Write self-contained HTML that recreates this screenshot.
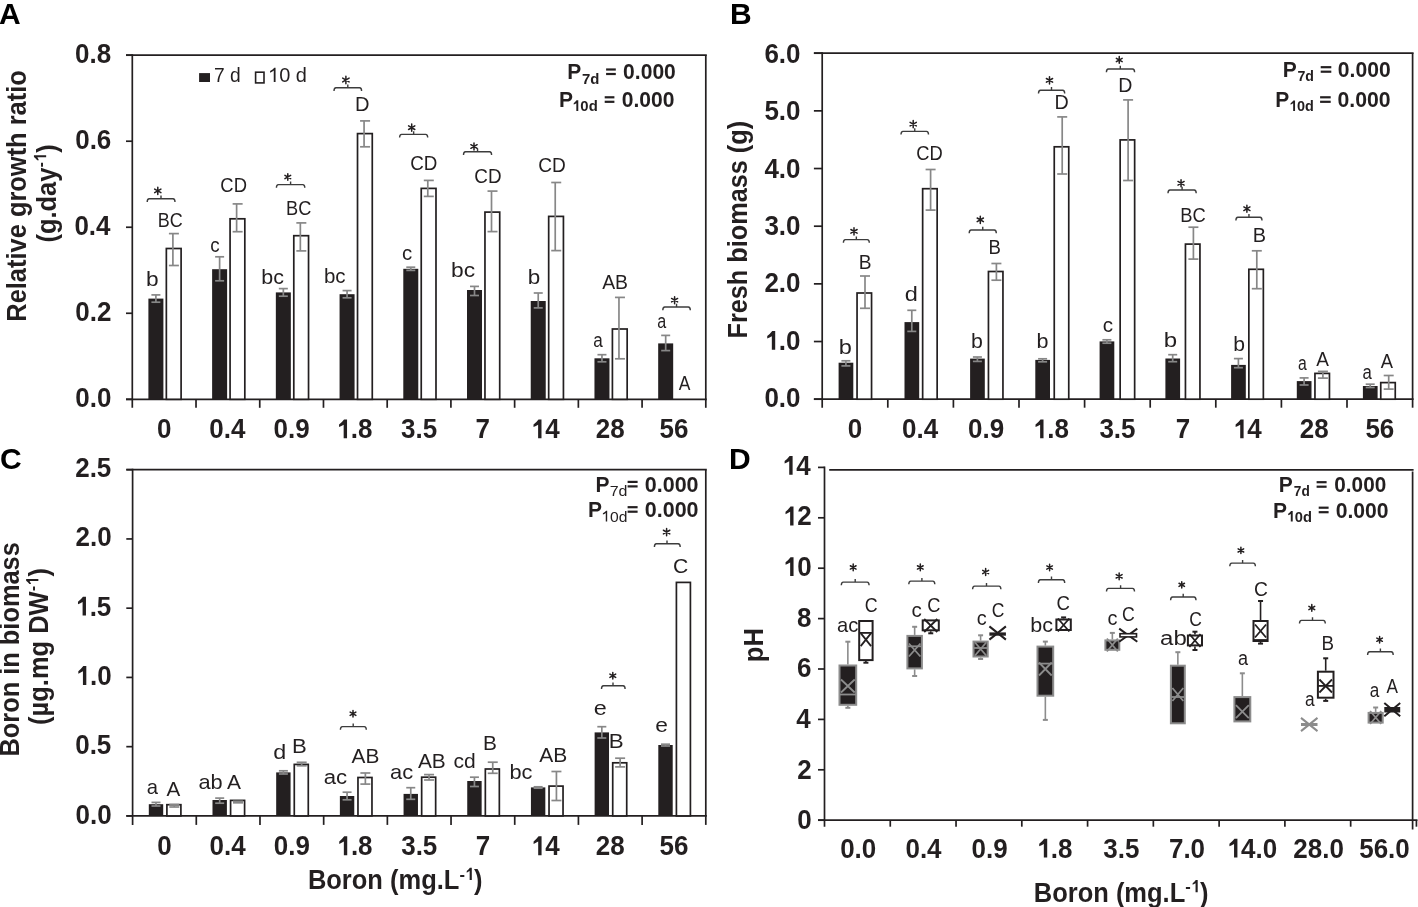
<!DOCTYPE html>
<html><head><meta charset="utf-8"><title>Boron figure</title>
<style>
html,body{margin:0;padding:0;background:#fff;width:1418px;height:907px;overflow:hidden}
svg{display:block;will-change:transform;font-family:"Liberation Sans", sans-serif}
</style></head><body>
<svg width="1418" height="907" viewBox="0 0 1418 907">
<rect width="1418" height="907" fill="#fff"/>
<line x1="126" y1="55.2" x2="706.8" y2="55.2" stroke="#231f20" stroke-width="1.7"/>
<line x1="705.8" y1="55.2" x2="705.8" y2="399.3" stroke="#231f20" stroke-width="1.7"/>
<line x1="132.3" y1="54.2" x2="132.3" y2="407.8" stroke="#231f20" stroke-width="1.7"/>
<line x1="126" y1="399.3" x2="706.8" y2="399.3" stroke="#231f20" stroke-width="1.7"/>
<line x1="126" y1="399.3" x2="132.3" y2="399.3" stroke="#231f20" stroke-width="1.7"/>
<text transform="translate(75.32 407.2) scale(1.0000 1.0300)" font-size="26" font-weight="bold" fill="#231f20">0.0</text>
<line x1="126" y1="313.27" x2="132.3" y2="313.27" stroke="#231f20" stroke-width="1.7"/>
<text transform="translate(75.3 321.05) scale(1.0000 1.0300)" font-size="26" font-weight="bold" fill="#231f20">0.2</text>
<line x1="126" y1="227.25" x2="132.3" y2="227.25" stroke="#231f20" stroke-width="1.7"/>
<text transform="translate(74.4 234.9) scale(1.0000 1.0300)" font-size="26" font-weight="bold" fill="#231f20">0.4</text>
<line x1="126" y1="141.22" x2="132.3" y2="141.22" stroke="#231f20" stroke-width="1.7"/>
<text transform="translate(75.2 148.75) scale(1.0000 1.0300)" font-size="26" font-weight="bold" fill="#231f20">0.6</text>
<line x1="126" y1="55.2" x2="132.3" y2="55.2" stroke="#231f20" stroke-width="1.7"/>
<text transform="translate(75.06 62.6) scale(1.0000 1.0300)" font-size="26" font-weight="bold" fill="#231f20">0.8</text>
<line x1="196.02" y1="399.3" x2="196.02" y2="407.8" stroke="#231f20" stroke-width="1.7"/>
<line x1="259.74" y1="399.3" x2="259.74" y2="407.8" stroke="#231f20" stroke-width="1.7"/>
<line x1="323.47" y1="399.3" x2="323.47" y2="407.8" stroke="#231f20" stroke-width="1.7"/>
<line x1="387.19" y1="399.3" x2="387.19" y2="407.8" stroke="#231f20" stroke-width="1.7"/>
<line x1="450.91" y1="399.3" x2="450.91" y2="407.8" stroke="#231f20" stroke-width="1.7"/>
<line x1="514.63" y1="399.3" x2="514.63" y2="407.8" stroke="#231f20" stroke-width="1.7"/>
<line x1="578.36" y1="399.3" x2="578.36" y2="407.8" stroke="#231f20" stroke-width="1.7"/>
<line x1="642.08" y1="399.3" x2="642.08" y2="407.8" stroke="#231f20" stroke-width="1.7"/>
<line x1="705.8" y1="399.3" x2="705.8" y2="407.8" stroke="#231f20" stroke-width="1.7"/>
<text transform="translate(156.95 438.3) scale(1.0000 1.0300)" font-size="26" font-weight="bold" fill="#231f20">0</text>
<text transform="translate(209.37 438.3) scale(1.0000 1.0300)" font-size="26" font-weight="bold" fill="#231f20">0.4</text>
<text transform="translate(273.5 438.3) scale(1.0000 1.0300)" font-size="26" font-weight="bold" fill="#231f20">0.9</text>
<text transform="translate(336.25 438.3) scale(1.0000 1.0300)" font-size="26" font-weight="bold" fill="#231f20"> .8</text>
<path transform="translate(336.25 438.3) scale(26.0000 26.7800)" d="M0.285 0L0.415 0L0.415 -0.705L0.30 -0.705Q0.22 -0.6 0.108 -0.515L0.108 -0.42Q0.2 -0.455 0.285 -0.51Z" fill="#231f20"/>
<text transform="translate(401.04 438.3) scale(1.0000 1.0300)" font-size="26" font-weight="bold" fill="#231f20">3.5</text>
<text transform="translate(475.55 438.3) scale(1.0000 1.0300)" font-size="26" font-weight="bold" fill="#231f20">7</text>
<text transform="translate(530.7 438.3) scale(1.0000 1.0300)" font-size="26" font-weight="bold" fill="#231f20"> 4</text>
<path transform="translate(530.7 438.3) scale(26.0000 26.7800)" d="M0.285 0L0.415 0L0.415 -0.705L0.30 -0.705Q0.22 -0.6 0.108 -0.515L0.108 -0.42Q0.2 -0.455 0.285 -0.51Z" fill="#231f20"/>
<text transform="translate(595.71 438.3) scale(1.0000 1.0300)" font-size="26" font-weight="bold" fill="#231f20">28</text>
<text transform="translate(659.55 438.3) scale(1.0000 1.0300)" font-size="26" font-weight="bold" fill="#231f20">56</text>
<rect x="148.4" y="298.6" width="15" height="100.7" fill="#231f20"/>
<rect x="166.35" y="248.5" width="14.75" height="150.8" fill="#fff" stroke="#231f20" stroke-width="1.7"/>
<line x1="155.9" y1="294.9" x2="155.9" y2="302.2" stroke="#878787" stroke-width="1.7"/>
<line x1="151.4" y1="294.9" x2="160.4" y2="294.9" stroke="#878787" stroke-width="1.7"/>
<line x1="151.4" y1="302.2" x2="160.4" y2="302.2" stroke="#878787" stroke-width="1.7"/>
<line x1="172.9" y1="233.6" x2="172.9" y2="265.5" stroke="#878787" stroke-width="1.7"/>
<line x1="168.9" y1="233.6" x2="178.9" y2="233.6" stroke="#878787" stroke-width="1.7"/>
<line x1="168.9" y1="265.5" x2="178.9" y2="265.5" stroke="#878787" stroke-width="1.7"/>
<rect x="212.12" y="269.2" width="15" height="130.1" fill="#231f20"/>
<rect x="230.07" y="218.8" width="14.75" height="180.5" fill="#fff" stroke="#231f20" stroke-width="1.7"/>
<line x1="219.62" y1="256.8" x2="219.62" y2="280.8" stroke="#878787" stroke-width="1.7"/>
<line x1="215.12" y1="256.8" x2="224.12" y2="256.8" stroke="#878787" stroke-width="1.7"/>
<line x1="215.12" y1="280.8" x2="224.12" y2="280.8" stroke="#878787" stroke-width="1.7"/>
<line x1="236.62" y1="203.9" x2="236.62" y2="231.7" stroke="#878787" stroke-width="1.7"/>
<line x1="232.62" y1="203.9" x2="242.62" y2="203.9" stroke="#878787" stroke-width="1.7"/>
<line x1="232.62" y1="231.7" x2="242.62" y2="231.7" stroke="#878787" stroke-width="1.7"/>
<rect x="275.84" y="292.4" width="15" height="106.9" fill="#231f20"/>
<rect x="293.79" y="235.7" width="14.75" height="163.6" fill="#fff" stroke="#231f20" stroke-width="1.7"/>
<line x1="283.34" y1="288.6" x2="283.34" y2="296.2" stroke="#878787" stroke-width="1.7"/>
<line x1="278.84" y1="288.6" x2="287.84" y2="288.6" stroke="#878787" stroke-width="1.7"/>
<line x1="278.84" y1="296.2" x2="287.84" y2="296.2" stroke="#878787" stroke-width="1.7"/>
<line x1="300.34" y1="222.9" x2="300.34" y2="250.9" stroke="#878787" stroke-width="1.7"/>
<line x1="296.34" y1="222.9" x2="306.34" y2="222.9" stroke="#878787" stroke-width="1.7"/>
<line x1="296.34" y1="250.9" x2="306.34" y2="250.9" stroke="#878787" stroke-width="1.7"/>
<rect x="339.57" y="294.2" width="15" height="105.1" fill="#231f20"/>
<rect x="357.52" y="133.6" width="14.75" height="265.7" fill="#fff" stroke="#231f20" stroke-width="1.7"/>
<line x1="347.07" y1="290.6" x2="347.07" y2="297.8" stroke="#878787" stroke-width="1.7"/>
<line x1="342.57" y1="290.6" x2="351.57" y2="290.6" stroke="#878787" stroke-width="1.7"/>
<line x1="342.57" y1="297.8" x2="351.57" y2="297.8" stroke="#878787" stroke-width="1.7"/>
<line x1="364.07" y1="120.9" x2="364.07" y2="146.8" stroke="#878787" stroke-width="1.7"/>
<line x1="360.07" y1="120.9" x2="370.07" y2="120.9" stroke="#878787" stroke-width="1.7"/>
<line x1="360.07" y1="146.8" x2="370.07" y2="146.8" stroke="#878787" stroke-width="1.7"/>
<rect x="403.29" y="268.8" width="15" height="130.5" fill="#231f20"/>
<rect x="421.24" y="188.4" width="14.75" height="210.9" fill="#fff" stroke="#231f20" stroke-width="1.7"/>
<line x1="410.79" y1="267.2" x2="410.79" y2="270.4" stroke="#878787" stroke-width="1.7"/>
<line x1="406.29" y1="267.2" x2="415.29" y2="267.2" stroke="#878787" stroke-width="1.7"/>
<line x1="406.29" y1="270.4" x2="415.29" y2="270.4" stroke="#878787" stroke-width="1.7"/>
<line x1="427.79" y1="180.4" x2="427.79" y2="196.4" stroke="#878787" stroke-width="1.7"/>
<line x1="423.79" y1="180.4" x2="433.79" y2="180.4" stroke="#878787" stroke-width="1.7"/>
<line x1="423.79" y1="196.4" x2="433.79" y2="196.4" stroke="#878787" stroke-width="1.7"/>
<rect x="467.01" y="290" width="15" height="109.3" fill="#231f20"/>
<rect x="484.96" y="212.1" width="14.75" height="187.2" fill="#fff" stroke="#231f20" stroke-width="1.7"/>
<line x1="474.51" y1="286.4" x2="474.51" y2="295.5" stroke="#878787" stroke-width="1.7"/>
<line x1="470.01" y1="286.4" x2="479.01" y2="286.4" stroke="#878787" stroke-width="1.7"/>
<line x1="470.01" y1="295.5" x2="479.01" y2="295.5" stroke="#878787" stroke-width="1.7"/>
<line x1="491.51" y1="191.1" x2="491.51" y2="231.6" stroke="#878787" stroke-width="1.7"/>
<line x1="487.51" y1="191.1" x2="497.51" y2="191.1" stroke="#878787" stroke-width="1.7"/>
<line x1="487.51" y1="231.6" x2="497.51" y2="231.6" stroke="#878787" stroke-width="1.7"/>
<rect x="530.73" y="301" width="15" height="98.3" fill="#231f20"/>
<rect x="548.68" y="216.4" width="14.75" height="182.9" fill="#fff" stroke="#231f20" stroke-width="1.7"/>
<line x1="538.23" y1="293" x2="538.23" y2="307.9" stroke="#878787" stroke-width="1.7"/>
<line x1="533.73" y1="293" x2="542.73" y2="293" stroke="#878787" stroke-width="1.7"/>
<line x1="533.73" y1="307.9" x2="542.73" y2="307.9" stroke="#878787" stroke-width="1.7"/>
<line x1="555.23" y1="182.5" x2="555.23" y2="250.6" stroke="#878787" stroke-width="1.7"/>
<line x1="551.23" y1="182.5" x2="561.23" y2="182.5" stroke="#878787" stroke-width="1.7"/>
<line x1="551.23" y1="250.6" x2="561.23" y2="250.6" stroke="#878787" stroke-width="1.7"/>
<rect x="594.46" y="358.3" width="15" height="41" fill="#231f20"/>
<rect x="612.41" y="329" width="14.75" height="70.3" fill="#fff" stroke="#231f20" stroke-width="1.7"/>
<line x1="601.96" y1="354.7" x2="601.96" y2="361.8" stroke="#878787" stroke-width="1.7"/>
<line x1="597.46" y1="354.7" x2="606.46" y2="354.7" stroke="#878787" stroke-width="1.7"/>
<line x1="597.46" y1="361.8" x2="606.46" y2="361.8" stroke="#878787" stroke-width="1.7"/>
<line x1="618.96" y1="297.4" x2="618.96" y2="358.8" stroke="#878787" stroke-width="1.7"/>
<line x1="614.96" y1="297.4" x2="624.96" y2="297.4" stroke="#878787" stroke-width="1.7"/>
<line x1="614.96" y1="358.8" x2="624.96" y2="358.8" stroke="#878787" stroke-width="1.7"/>
<rect x="658.18" y="343.4" width="15" height="55.9" fill="#231f20"/>
<line x1="665.68" y1="335.4" x2="665.68" y2="350.6" stroke="#878787" stroke-width="1.7"/>
<line x1="661.18" y1="335.4" x2="670.18" y2="335.4" stroke="#878787" stroke-width="1.7"/>
<line x1="661.18" y1="350.6" x2="670.18" y2="350.6" stroke="#878787" stroke-width="1.7"/>
<text transform="translate(145.94 285.6) scale(1.0801 1.0000)" font-size="21" fill="#231f20">b</text>
<text transform="translate(157.73 226.8) scale(0.8555 1.0000)" font-size="21" fill="#231f20">BC</text>
<text transform="translate(210.2 251.7) scale(0.8946 1.0000)" font-size="21" fill="#231f20">c</text>
<text transform="translate(220.36 192.1) scale(0.8776 1.0000)" font-size="21" fill="#231f20">CD</text>
<text transform="translate(261.22 283.9) scale(1.0211 1.0000)" font-size="21" fill="#231f20">bc</text>
<text transform="translate(286.01 214.8) scale(0.8668 1.0000)" font-size="21" fill="#231f20">BC</text>
<text transform="translate(323.88 282.9) scale(0.9767 1.0000)" font-size="21" fill="#231f20">bc</text>
<text transform="translate(354.95 111.3) scale(0.9567 1.0000)" font-size="21" fill="#231f20">D</text>
<text transform="translate(402.03 259.5) scale(0.9719 1.0000)" font-size="21" fill="#231f20">c</text>
<text transform="translate(410.25 170) scale(0.8953 1.0000)" font-size="21" fill="#231f20">CD</text>
<text transform="translate(451.03 277.4) scale(1.0852 1.0000)" font-size="21" fill="#231f20">bc</text>
<text transform="translate(474.34 182.9) scale(0.8988 1.0000)" font-size="21" fill="#231f20">CD</text>
<text transform="translate(527.75 284) scale(1.0695 1.0000)" font-size="21" fill="#231f20">b</text>
<text transform="translate(538.33 172.4) scale(0.9094 1.0000)" font-size="21" fill="#231f20">CD</text>
<text transform="translate(593.17 346.8) scale(0.8158 1.0000)" font-size="21" fill="#231f20">a</text>
<text transform="translate(602.16 288.9) scale(0.9231 1.0000)" font-size="21" fill="#231f20">AB</text>
<text transform="translate(657.31 327.5) scale(0.7694 1.0000)" font-size="21" fill="#231f20">a</text>
<text transform="translate(678.67 389.5) scale(0.8330 1.0000)" font-size="21" fill="#231f20">A</text>
<path d="M147.2 202Q147.2 198.8 149.2 198.8L173 198.8Q175 198.8 175 202M161 198.8L161 195.6" stroke="#3c3c3c" stroke-width="1.4" fill="none"/>
<path d="M157.8 194.5L157.8 187.3M154.68 192.7L160.92 189.1M154.68 189.1L160.92 192.7" stroke="#231f20" stroke-width="1.5" stroke-linecap="round" fill="none"/>
<path d="M276.4 187.8Q276.4 184.6 278.4 184.6L302.8 184.6Q304.8 184.6 304.8 187.8M290.6 184.6L290.6 181.4" stroke="#3c3c3c" stroke-width="1.4" fill="none"/>
<path d="M287.8 180.3L287.8 173.7M284.94 178.65L290.66 175.35M284.94 175.35L290.66 178.65" stroke="#231f20" stroke-width="1.5" stroke-linecap="round" fill="none"/>
<path d="M334 91Q334 87.8 336 87.8L359.6 87.8Q361.6 87.8 361.6 91M347.8 87.8L347.8 84.6" stroke="#3c3c3c" stroke-width="1.4" fill="none"/>
<path d="M345.9 83.7L345.9 76.3M342.7 81.85L349.1 78.15M342.7 78.15L349.1 81.85" stroke="#231f20" stroke-width="1.5" stroke-linecap="round" fill="none"/>
<path d="M399.6 137.6Q399.6 134.4 401.6 134.4L425.7 134.4Q427.7 134.4 427.7 137.6M413.65 134.4L413.65 131.2" stroke="#3c3c3c" stroke-width="1.4" fill="none"/>
<path d="M411.7 131.3L411.7 124.1M408.58 129.5L414.82 125.9M408.58 125.9L414.82 129.5" stroke="#231f20" stroke-width="1.5" stroke-linecap="round" fill="none"/>
<path d="M463.5 154.9Q463.5 151.7 465.5 151.7L489.6 151.7Q491.6 151.7 491.6 154.9M477.55 151.7L477.55 148.5" stroke="#3c3c3c" stroke-width="1.4" fill="none"/>
<path d="M474 150.1L474 142.9M470.88 148.3L477.12 144.7M470.88 144.7L477.12 148.3" stroke="#231f20" stroke-width="1.5" stroke-linecap="round" fill="none"/>
<path d="M662.8 310.2Q662.8 307 664.8 307L688.3 307Q690.3 307 690.3 310.2M676.55 307L676.55 303.8" stroke="#3c3c3c" stroke-width="1.4" fill="none"/>
<path d="M674.6 303.7L674.6 296.7M671.57 301.95L677.63 298.45M671.57 298.45L677.63 301.95" stroke="#231f20" stroke-width="1.5" stroke-linecap="round" fill="none"/>
<rect x="199.1" y="73.1" width="10.9" height="8.9" fill="#231f20"/>
<text transform="translate(213.91 82) scale(0.9612 1.0000)" font-size="20" fill="#231f20">7 d</text>
<rect x="255.6" y="72.2" width="8.4" height="10.7" fill="#fff" stroke="#231f20" stroke-width="1.6"/>
<text transform="translate(268.1 82) scale(0.9990 1.0000)" font-size="20" fill="#231f20"> 0 d</text>
<path transform="translate(268.1 82) scale(19.9794 20.0000)" d="M0.283 0L0.373 0L0.373 -0.716L0.31 -0.716Q0.24 -0.62 0.10 -0.545L0.10 -0.465Q0.2 -0.51 0.283 -0.575Z" fill="#231f20"/>
<text transform="translate(567.2 79.3) scale(1.0000 1.0300)" font-size="21" font-weight="bold" fill="#231f20">P</text>
<text transform="translate(582.06 83.8) scale(0.9955 1.0000)" font-size="15" font-weight="bold" fill="#231f20">7d</text>
<rect x="606.1" y="68.4" width="9.7" height="2.2" fill="#231f20"/>
<rect x="606.1" y="72.9" width="9.7" height="2.2" fill="#231f20"/>
<text transform="translate(623.07 79.3) scale(1.0047 1.0300)" font-size="21" font-weight="bold" fill="#231f20">0.000</text>
<text transform="translate(559 107.1) scale(1.0000 1.0300)" font-size="21" font-weight="bold" fill="#231f20">P</text>
<text transform="translate(572.09 110.9) scale(0.9940 1.0000)" font-size="15" font-weight="bold" fill="#231f20"> 0d</text>
<path transform="translate(572.09 110.9) scale(14.9107 15.0000)" d="M0.285 0L0.415 0L0.415 -0.705L0.30 -0.705Q0.22 -0.6 0.108 -0.515L0.108 -0.42Q0.2 -0.455 0.285 -0.51Z" fill="#231f20"/>
<rect x="604.7" y="96.2" width="9.7" height="2.2" fill="#231f20"/>
<rect x="604.7" y="100.7" width="9.7" height="2.2" fill="#231f20"/>
<text transform="translate(621.67 107.1) scale(1.0047 1.0300)" font-size="21" font-weight="bold" fill="#231f20">0.000</text>
<text transform="translate(25.9 321.7) rotate(-90) scale(0.9972 1.0500)" font-size="25.5" font-weight="bold" fill="#231f20">Relative growth ratio</text>
<g transform="translate(55.6 242.6) rotate(-90) scale(1 1.05)">
<text x="0" y="0" font-size="25.5" font-weight="bold" fill="#231f20">(g.day</text>
<text x="75.09" y="-9" font-size="16.5" font-weight="bold" fill="#231f20">- </text>
<path transform="translate(80.59 -9) scale(16.5000 16.5000)" d="M0.285 0L0.415 0L0.415 -0.705L0.30 -0.705Q0.22 -0.6 0.108 -0.515L0.108 -0.42Q0.2 -0.455 0.285 -0.51Z" fill="#231f20"/>
<text x="89.76" y="0" font-size="25.5" font-weight="bold" fill="#231f20">)</text>
</g>
<text x="-1" y="23.7" font-size="30" font-weight="bold" fill="#000">A</text>
<line x1="813.9" y1="53.2" x2="1413.6" y2="53.2" stroke="#231f20" stroke-width="1.7"/>
<line x1="1412.6" y1="53.2" x2="1412.6" y2="399.2" stroke="#231f20" stroke-width="1.7"/>
<line x1="822.2" y1="52.2" x2="822.2" y2="407.7" stroke="#231f20" stroke-width="1.7"/>
<line x1="813.9" y1="399.2" x2="1413.6" y2="399.2" stroke="#231f20" stroke-width="1.7"/>
<line x1="813.9" y1="399.2" x2="822.2" y2="399.2" stroke="#231f20" stroke-width="1.7"/>
<text transform="translate(764.42 407.3) scale(1.0000 1.0300)" font-size="26" font-weight="bold" fill="#231f20">0.0</text>
<line x1="813.9" y1="341.53" x2="822.2" y2="341.53" stroke="#231f20" stroke-width="1.7"/>
<text transform="translate(764.42 349.85) scale(1.0000 1.0300)" font-size="26" font-weight="bold" fill="#231f20"> .0</text>
<path transform="translate(764.42 349.85) scale(26.0000 26.7800)" d="M0.285 0L0.415 0L0.415 -0.705L0.30 -0.705Q0.22 -0.6 0.108 -0.515L0.108 -0.42Q0.2 -0.455 0.285 -0.51Z" fill="#231f20"/>
<line x1="813.9" y1="283.87" x2="822.2" y2="283.87" stroke="#231f20" stroke-width="1.7"/>
<text transform="translate(764.42 292.4) scale(1.0000 1.0300)" font-size="26" font-weight="bold" fill="#231f20">2.0</text>
<line x1="813.9" y1="226.2" x2="822.2" y2="226.2" stroke="#231f20" stroke-width="1.7"/>
<text transform="translate(764.42 234.95) scale(1.0000 1.0300)" font-size="26" font-weight="bold" fill="#231f20">3.0</text>
<line x1="813.9" y1="168.53" x2="822.2" y2="168.53" stroke="#231f20" stroke-width="1.7"/>
<text transform="translate(764.42 177.5) scale(1.0000 1.0300)" font-size="26" font-weight="bold" fill="#231f20">4.0</text>
<line x1="813.9" y1="110.87" x2="822.2" y2="110.87" stroke="#231f20" stroke-width="1.7"/>
<text transform="translate(764.42 120.05) scale(1.0000 1.0300)" font-size="26" font-weight="bold" fill="#231f20">5.0</text>
<line x1="813.9" y1="53.2" x2="822.2" y2="53.2" stroke="#231f20" stroke-width="1.7"/>
<text transform="translate(764.42 62.6) scale(1.0000 1.0300)" font-size="26" font-weight="bold" fill="#231f20">6.0</text>
<line x1="887.8" y1="399.2" x2="887.8" y2="407.7" stroke="#231f20" stroke-width="1.7"/>
<line x1="953.4" y1="399.2" x2="953.4" y2="407.7" stroke="#231f20" stroke-width="1.7"/>
<line x1="1019" y1="399.2" x2="1019" y2="407.7" stroke="#231f20" stroke-width="1.7"/>
<line x1="1084.6" y1="399.2" x2="1084.6" y2="407.7" stroke="#231f20" stroke-width="1.7"/>
<line x1="1150.2" y1="399.2" x2="1150.2" y2="407.7" stroke="#231f20" stroke-width="1.7"/>
<line x1="1215.8" y1="399.2" x2="1215.8" y2="407.7" stroke="#231f20" stroke-width="1.7"/>
<line x1="1281.4" y1="399.2" x2="1281.4" y2="407.7" stroke="#231f20" stroke-width="1.7"/>
<line x1="1347" y1="399.2" x2="1347" y2="407.7" stroke="#231f20" stroke-width="1.7"/>
<line x1="1412.6" y1="399.2" x2="1412.6" y2="407.7" stroke="#231f20" stroke-width="1.7"/>
<text transform="translate(847.79 438.3) scale(1.0000 1.0300)" font-size="26" font-weight="bold" fill="#231f20">0</text>
<text transform="translate(902.08 438.3) scale(1.0000 1.0300)" font-size="26" font-weight="bold" fill="#231f20">0.4</text>
<text transform="translate(968.1 438.3) scale(1.0000 1.0300)" font-size="26" font-weight="bold" fill="#231f20">0.9</text>
<text transform="translate(1032.72 438.3) scale(1.0000 1.0300)" font-size="26" font-weight="bold" fill="#231f20"> .8</text>
<path transform="translate(1032.72 438.3) scale(26.0000 26.7800)" d="M0.285 0L0.415 0L0.415 -0.705L0.30 -0.705Q0.22 -0.6 0.108 -0.515L0.108 -0.42Q0.2 -0.455 0.285 -0.51Z" fill="#231f20"/>
<text transform="translate(1099.39 438.3) scale(1.0000 1.0300)" font-size="26" font-weight="bold" fill="#231f20">3.5</text>
<text transform="translate(1175.78 438.3) scale(1.0000 1.0300)" font-size="26" font-weight="bold" fill="#231f20">7</text>
<text transform="translate(1232.81 438.3) scale(1.0000 1.0300)" font-size="26" font-weight="bold" fill="#231f20"> 4</text>
<path transform="translate(1232.81 438.3) scale(26.0000 26.7800)" d="M0.285 0L0.415 0L0.415 -0.705L0.30 -0.705Q0.22 -0.6 0.108 -0.515L0.108 -0.42Q0.2 -0.455 0.285 -0.51Z" fill="#231f20"/>
<text transform="translate(1299.69 438.3) scale(1.0000 1.0300)" font-size="26" font-weight="bold" fill="#231f20">28</text>
<text transform="translate(1365.41 438.3) scale(1.0000 1.0300)" font-size="26" font-weight="bold" fill="#231f20">56</text>
<rect x="838.6" y="362.7" width="14.7" height="36.5" fill="#231f20"/>
<rect x="857.05" y="293" width="14.5" height="106.2" fill="#fff" stroke="#231f20" stroke-width="1.7"/>
<line x1="845.9" y1="360.8" x2="845.9" y2="365.9" stroke="#878787" stroke-width="1.7"/>
<line x1="841.4" y1="360.8" x2="850.4" y2="360.8" stroke="#878787" stroke-width="1.7"/>
<line x1="841.4" y1="365.9" x2="850.4" y2="365.9" stroke="#878787" stroke-width="1.7"/>
<line x1="865" y1="276" x2="865" y2="308.3" stroke="#878787" stroke-width="1.7"/>
<line x1="860" y1="276" x2="870" y2="276" stroke="#878787" stroke-width="1.7"/>
<line x1="860" y1="308.3" x2="870" y2="308.3" stroke="#878787" stroke-width="1.7"/>
<rect x="904.5" y="322.1" width="14.7" height="77.1" fill="#231f20"/>
<rect x="922.65" y="188.7" width="14.5" height="210.5" fill="#fff" stroke="#231f20" stroke-width="1.7"/>
<line x1="911.8" y1="310.3" x2="911.8" y2="331.4" stroke="#878787" stroke-width="1.7"/>
<line x1="907.3" y1="310.3" x2="916.3" y2="310.3" stroke="#878787" stroke-width="1.7"/>
<line x1="907.3" y1="331.4" x2="916.3" y2="331.4" stroke="#878787" stroke-width="1.7"/>
<line x1="930.6" y1="169.5" x2="930.6" y2="210.1" stroke="#878787" stroke-width="1.7"/>
<line x1="925.6" y1="169.5" x2="935.6" y2="169.5" stroke="#878787" stroke-width="1.7"/>
<line x1="925.6" y1="210.1" x2="935.6" y2="210.1" stroke="#878787" stroke-width="1.7"/>
<rect x="970.1" y="358.6" width="14.7" height="40.6" fill="#231f20"/>
<rect x="988.45" y="271.5" width="14.5" height="127.7" fill="#fff" stroke="#231f20" stroke-width="1.7"/>
<line x1="977.4" y1="357" x2="977.4" y2="361.4" stroke="#878787" stroke-width="1.7"/>
<line x1="972.9" y1="357" x2="981.9" y2="357" stroke="#878787" stroke-width="1.7"/>
<line x1="972.9" y1="361.4" x2="981.9" y2="361.4" stroke="#878787" stroke-width="1.7"/>
<line x1="996.4" y1="263.5" x2="996.4" y2="280.2" stroke="#878787" stroke-width="1.7"/>
<line x1="991.4" y1="263.5" x2="1001.4" y2="263.5" stroke="#878787" stroke-width="1.7"/>
<line x1="991.4" y1="280.2" x2="1001.4" y2="280.2" stroke="#878787" stroke-width="1.7"/>
<rect x="1035.3" y="359.9" width="14.7" height="39.3" fill="#231f20"/>
<rect x="1054.25" y="146.8" width="14.5" height="252.4" fill="#fff" stroke="#231f20" stroke-width="1.7"/>
<line x1="1042.6" y1="358.8" x2="1042.6" y2="361.8" stroke="#878787" stroke-width="1.7"/>
<line x1="1038.1" y1="358.8" x2="1047.1" y2="358.8" stroke="#878787" stroke-width="1.7"/>
<line x1="1038.1" y1="361.8" x2="1047.1" y2="361.8" stroke="#878787" stroke-width="1.7"/>
<line x1="1062.2" y1="116.9" x2="1062.2" y2="174" stroke="#878787" stroke-width="1.7"/>
<line x1="1057.2" y1="116.9" x2="1067.2" y2="116.9" stroke="#878787" stroke-width="1.7"/>
<line x1="1057.2" y1="174" x2="1067.2" y2="174" stroke="#878787" stroke-width="1.7"/>
<rect x="1099.6" y="341.4" width="14.7" height="57.8" fill="#231f20"/>
<rect x="1120.15" y="139.9" width="14.5" height="259.3" fill="#fff" stroke="#231f20" stroke-width="1.7"/>
<line x1="1106.9" y1="339.8" x2="1106.9" y2="343.2" stroke="#878787" stroke-width="1.7"/>
<line x1="1102.4" y1="339.8" x2="1111.4" y2="339.8" stroke="#878787" stroke-width="1.7"/>
<line x1="1102.4" y1="343.2" x2="1111.4" y2="343.2" stroke="#878787" stroke-width="1.7"/>
<line x1="1128.1" y1="99.9" x2="1128.1" y2="180.5" stroke="#878787" stroke-width="1.7"/>
<line x1="1123.1" y1="99.9" x2="1133.1" y2="99.9" stroke="#878787" stroke-width="1.7"/>
<line x1="1123.1" y1="180.5" x2="1133.1" y2="180.5" stroke="#878787" stroke-width="1.7"/>
<rect x="1165.4" y="358.5" width="14.7" height="40.7" fill="#231f20"/>
<rect x="1185.45" y="244.1" width="14.5" height="155.1" fill="#fff" stroke="#231f20" stroke-width="1.7"/>
<line x1="1172.7" y1="354.7" x2="1172.7" y2="361.7" stroke="#878787" stroke-width="1.7"/>
<line x1="1168.2" y1="354.7" x2="1177.2" y2="354.7" stroke="#878787" stroke-width="1.7"/>
<line x1="1168.2" y1="361.7" x2="1177.2" y2="361.7" stroke="#878787" stroke-width="1.7"/>
<line x1="1193.4" y1="227.2" x2="1193.4" y2="259.1" stroke="#878787" stroke-width="1.7"/>
<line x1="1188.4" y1="227.2" x2="1198.4" y2="227.2" stroke="#878787" stroke-width="1.7"/>
<line x1="1188.4" y1="259.1" x2="1198.4" y2="259.1" stroke="#878787" stroke-width="1.7"/>
<rect x="1231.1" y="364.9" width="14.7" height="34.3" fill="#231f20"/>
<rect x="1248.85" y="269.3" width="14.5" height="129.9" fill="#fff" stroke="#231f20" stroke-width="1.7"/>
<line x1="1238.4" y1="358.6" x2="1238.4" y2="367.7" stroke="#878787" stroke-width="1.7"/>
<line x1="1233.9" y1="358.6" x2="1242.9" y2="358.6" stroke="#878787" stroke-width="1.7"/>
<line x1="1233.9" y1="367.7" x2="1242.9" y2="367.7" stroke="#878787" stroke-width="1.7"/>
<line x1="1256.8" y1="250.8" x2="1256.8" y2="288.7" stroke="#878787" stroke-width="1.7"/>
<line x1="1251.8" y1="250.8" x2="1261.8" y2="250.8" stroke="#878787" stroke-width="1.7"/>
<line x1="1251.8" y1="288.7" x2="1261.8" y2="288.7" stroke="#878787" stroke-width="1.7"/>
<rect x="1296.8" y="381.1" width="14.7" height="18.1" fill="#231f20"/>
<rect x="1314.95" y="373.4" width="14.5" height="25.8" fill="#fff" stroke="#231f20" stroke-width="1.7"/>
<line x1="1304.1" y1="377.9" x2="1304.1" y2="385" stroke="#878787" stroke-width="1.7"/>
<line x1="1299.6" y1="377.9" x2="1308.6" y2="377.9" stroke="#878787" stroke-width="1.7"/>
<line x1="1299.6" y1="385" x2="1308.6" y2="385" stroke="#878787" stroke-width="1.7"/>
<line x1="1322.9" y1="371.4" x2="1322.9" y2="378.1" stroke="#878787" stroke-width="1.7"/>
<line x1="1317.9" y1="371.4" x2="1327.9" y2="371.4" stroke="#878787" stroke-width="1.7"/>
<line x1="1317.9" y1="378.1" x2="1327.9" y2="378.1" stroke="#878787" stroke-width="1.7"/>
<rect x="1362.9" y="386" width="14.7" height="13.2" fill="#231f20"/>
<rect x="1380.75" y="382.6" width="14.5" height="16.6" fill="#fff" stroke="#231f20" stroke-width="1.7"/>
<line x1="1370.2" y1="384.2" x2="1370.2" y2="387.5" stroke="#878787" stroke-width="1.7"/>
<line x1="1365.7" y1="384.2" x2="1374.7" y2="384.2" stroke="#878787" stroke-width="1.7"/>
<line x1="1365.7" y1="387.5" x2="1374.7" y2="387.5" stroke="#878787" stroke-width="1.7"/>
<line x1="1388.7" y1="375.5" x2="1388.7" y2="389.1" stroke="#878787" stroke-width="1.7"/>
<line x1="1383.7" y1="375.5" x2="1393.7" y2="375.5" stroke="#878787" stroke-width="1.7"/>
<line x1="1383.7" y1="389.1" x2="1393.7" y2="389.1" stroke="#878787" stroke-width="1.7"/>
<text transform="translate(838.68 353.6) scale(1.1224 1.0000)" font-size="21" fill="#231f20">b</text>
<text transform="translate(858.83 268.8) scale(0.9126 1.0000)" font-size="21" fill="#231f20">B</text>
<text transform="translate(904.81 300.8) scale(1.1224 1.0000)" font-size="21" fill="#231f20">d</text>
<text transform="translate(916.37 160.3) scale(0.8740 1.0000)" font-size="21" fill="#231f20">CD</text>
<text transform="translate(971.02 347.5) scale(1.0165 1.0000)" font-size="21" fill="#231f20">b</text>
<text transform="translate(988.47 253.8) scale(0.8858 1.0000)" font-size="21" fill="#231f20">B</text>
<text transform="translate(1036.61 347.8) scale(1.0271 1.0000)" font-size="21" fill="#231f20">b</text>
<text transform="translate(1054.38 108.8) scale(0.9407 1.0000)" font-size="21" fill="#231f20">D</text>
<text transform="translate(1102.82 332.3) scale(0.9830 1.0000)" font-size="21" fill="#231f20">c</text>
<text transform="translate(1118.29 91.5) scale(0.9326 1.0000)" font-size="21" fill="#231f20">D</text>
<text transform="translate(1163.85 346.8) scale(1.1436 1.0000)" font-size="21" fill="#231f20">b</text>
<text transform="translate(1180.19 221.9) scale(0.8743 1.0000)" font-size="21" fill="#231f20">BC</text>
<text transform="translate(1233.24 351.3) scale(1.0059 1.0000)" font-size="21" fill="#231f20">b</text>
<text transform="translate(1252.77 242.1) scale(0.9484 1.0000)" font-size="21" fill="#231f20">B</text>
<text transform="translate(1297.93 370.2) scale(0.7509 1.0000)" font-size="21" fill="#231f20">a</text>
<text transform="translate(1316.36 366.1) scale(0.9049 1.0000)" font-size="21" fill="#231f20">A</text>
<text transform="translate(1362.39 378.7) scale(0.7972 1.0000)" font-size="21" fill="#231f20">a</text>
<text transform="translate(1380.76 368.1) scale(0.8761 1.0000)" font-size="21" fill="#231f20">A</text>
<path d="M843.4 242.8Q843.4 239.6 845.4 239.6L867.3 239.6Q869.3 239.6 869.3 242.8M856.35 239.6L856.35 236.4" stroke="#3c3c3c" stroke-width="1.4" fill="none"/>
<path d="M854 234.9L854 227.7M850.88 233.1L857.12 229.5M850.88 229.5L857.12 233.1" stroke="#231f20" stroke-width="1.5" stroke-linecap="round" fill="none"/>
<path d="M901 134.6Q901 131.4 903 131.4L926.5 131.4Q928.5 131.4 928.5 134.6M914.75 131.4L914.75 128.2" stroke="#3c3c3c" stroke-width="1.4" fill="none"/>
<path d="M913.2 127.7L913.2 120.5M910.08 125.9L916.32 122.3M910.08 122.3L916.32 125.9" stroke="#231f20" stroke-width="1.5" stroke-linecap="round" fill="none"/>
<path d="M969.2 233.2Q969.2 230 971.2 230L994.3 230Q996.3 230 996.3 233.2M982.75 230L982.75 226.8" stroke="#3c3c3c" stroke-width="1.4" fill="none"/>
<path d="M980.3 223.4L980.3 216.2M977.18 221.6L983.42 218M977.18 218L983.42 221.6" stroke="#231f20" stroke-width="1.5" stroke-linecap="round" fill="none"/>
<path d="M1038.5 93.5Q1038.5 90.3 1040.5 90.3L1062.7 90.3Q1064.7 90.3 1064.7 93.5M1051.5 90.3L1051.5 87.1" stroke="#3c3c3c" stroke-width="1.4" fill="none"/>
<path d="M1049.5 83.9L1049.5 76.7M1046.38 82.1L1052.62 78.5M1046.38 78.5L1052.62 82.1" stroke="#231f20" stroke-width="1.5" stroke-linecap="round" fill="none"/>
<path d="M1106.4 72.2Q1106.4 69 1108.4 69L1132.6 69Q1134.6 69 1134.6 72.2M1120.3 69L1120.3 65.8" stroke="#3c3c3c" stroke-width="1.4" fill="none"/>
<path d="M1119.25 63.3L1119.25 56.6M1116.35 61.62L1122.15 58.28M1116.35 58.28L1122.15 61.62" stroke="#231f20" stroke-width="1.5" stroke-linecap="round" fill="none"/>
<path d="M1168 193.2Q1168 190 1170 190L1194.2 190Q1196.2 190 1196.2 193.2M1182.1 190L1182.1 186.8" stroke="#3c3c3c" stroke-width="1.4" fill="none"/>
<path d="M1181.05 186.8L1181.05 179.7M1177.98 185.03L1184.12 181.47M1177.98 181.47L1184.12 185.03" stroke="#231f20" stroke-width="1.5" stroke-linecap="round" fill="none"/>
<path d="M1235.9 220.5Q1235.9 217.3 1237.9 217.3L1260 217.3Q1262 217.3 1262 220.5M1248.95 217.3L1248.95 214.1" stroke="#3c3c3c" stroke-width="1.4" fill="none"/>
<path d="M1246.9 212.3L1246.9 205.2M1243.83 210.53L1249.97 206.97M1243.83 206.97L1249.97 210.53" stroke="#231f20" stroke-width="1.5" stroke-linecap="round" fill="none"/>
<text transform="translate(1282.7 77) scale(1.0000 1.0300)" font-size="21" font-weight="bold" fill="#231f20">P</text>
<text transform="translate(1297.39 81.4) scale(0.9451 1.0000)" font-size="15" font-weight="bold" fill="#231f20">7d</text>
<rect x="1320.7" y="66.1" width="10.6" height="2.2" fill="#231f20"/>
<rect x="1320.7" y="70.6" width="10.6" height="2.2" fill="#231f20"/>
<text transform="translate(1337.76 77) scale(1.0067 1.0300)" font-size="21" font-weight="bold" fill="#231f20">0.000</text>
<text transform="translate(1275.3 107.1) scale(1.0000 1.0300)" font-size="21" font-weight="bold" fill="#231f20">P</text>
<text transform="translate(1289.04 111) scale(0.9639 1.0000)" font-size="15" font-weight="bold" fill="#231f20"> 0d</text>
<path transform="translate(1289.04 111) scale(14.4588 15.0000)" d="M0.285 0L0.415 0L0.415 -0.705L0.30 -0.705Q0.22 -0.6 0.108 -0.515L0.108 -0.42Q0.2 -0.455 0.285 -0.51Z" fill="#231f20"/>
<rect x="1320.1" y="96.2" width="10.6" height="2.2" fill="#231f20"/>
<rect x="1320.1" y="100.7" width="10.6" height="2.2" fill="#231f20"/>
<text transform="translate(1337.46 107.1) scale(1.0126 1.0300)" font-size="21" font-weight="bold" fill="#231f20">0.000</text>
<text transform="translate(747 338.49) rotate(-90) scale(0.9915 1.0500)" font-size="25.5" font-weight="bold" fill="#231f20">Fresh biomass (g)</text>
<text x="730" y="24.1" font-size="30" font-weight="bold" fill="#000">B</text>
<line x1="126.3" y1="469.7" x2="706.8" y2="469.7" stroke="#231f20" stroke-width="1.7"/>
<line x1="705.8" y1="469.7" x2="705.8" y2="815.9" stroke="#231f20" stroke-width="1.7"/>
<line x1="132.6" y1="468.7" x2="132.6" y2="824.9" stroke="#231f20" stroke-width="1.7"/>
<line x1="126.3" y1="815.9" x2="706.8" y2="815.9" stroke="#231f20" stroke-width="1.7"/>
<line x1="126.3" y1="815.9" x2="132.6" y2="815.9" stroke="#231f20" stroke-width="1.7"/>
<text transform="translate(75.52 823.6) scale(1.0000 1.0300)" font-size="26" font-weight="bold" fill="#231f20">0.0</text>
<line x1="126.3" y1="746.66" x2="132.6" y2="746.66" stroke="#231f20" stroke-width="1.7"/>
<text transform="translate(75.18 754.26) scale(1.0000 1.0300)" font-size="26" font-weight="bold" fill="#231f20">0.5</text>
<line x1="126.3" y1="677.42" x2="132.6" y2="677.42" stroke="#231f20" stroke-width="1.7"/>
<text transform="translate(75.52 684.92) scale(1.0000 1.0300)" font-size="26" font-weight="bold" fill="#231f20"> .0</text>
<path transform="translate(75.52 684.92) scale(26.0000 26.7800)" d="M0.285 0L0.415 0L0.415 -0.705L0.30 -0.705Q0.22 -0.6 0.108 -0.515L0.108 -0.42Q0.2 -0.455 0.285 -0.51Z" fill="#231f20"/>
<line x1="126.3" y1="608.18" x2="132.6" y2="608.18" stroke="#231f20" stroke-width="1.7"/>
<text transform="translate(75.18 615.58) scale(1.0000 1.0300)" font-size="26" font-weight="bold" fill="#231f20"> .5</text>
<path transform="translate(75.18 615.58) scale(26.0000 26.7800)" d="M0.285 0L0.415 0L0.415 -0.705L0.30 -0.705Q0.22 -0.6 0.108 -0.515L0.108 -0.42Q0.2 -0.455 0.285 -0.51Z" fill="#231f20"/>
<line x1="126.3" y1="538.94" x2="132.6" y2="538.94" stroke="#231f20" stroke-width="1.7"/>
<text transform="translate(75.52 546.24) scale(1.0000 1.0300)" font-size="26" font-weight="bold" fill="#231f20">2.0</text>
<line x1="126.3" y1="469.7" x2="132.6" y2="469.7" stroke="#231f20" stroke-width="1.7"/>
<text transform="translate(75.18 476.9) scale(1.0000 1.0300)" font-size="26" font-weight="bold" fill="#231f20">2.5</text>
<line x1="196.29" y1="815.9" x2="196.29" y2="824.9" stroke="#231f20" stroke-width="1.7"/>
<line x1="259.98" y1="815.9" x2="259.98" y2="824.9" stroke="#231f20" stroke-width="1.7"/>
<line x1="323.67" y1="815.9" x2="323.67" y2="824.9" stroke="#231f20" stroke-width="1.7"/>
<line x1="387.36" y1="815.9" x2="387.36" y2="824.9" stroke="#231f20" stroke-width="1.7"/>
<line x1="451.04" y1="815.9" x2="451.04" y2="824.9" stroke="#231f20" stroke-width="1.7"/>
<line x1="514.73" y1="815.9" x2="514.73" y2="824.9" stroke="#231f20" stroke-width="1.7"/>
<line x1="578.42" y1="815.9" x2="578.42" y2="824.9" stroke="#231f20" stroke-width="1.7"/>
<line x1="642.11" y1="815.9" x2="642.11" y2="824.9" stroke="#231f20" stroke-width="1.7"/>
<line x1="705.8" y1="815.9" x2="705.8" y2="824.9" stroke="#231f20" stroke-width="1.7"/>
<text transform="translate(157.23 855.2) scale(1.0000 1.0300)" font-size="26" font-weight="bold" fill="#231f20">0</text>
<text transform="translate(209.62 855.2) scale(1.0000 1.0300)" font-size="26" font-weight="bold" fill="#231f20">0.4</text>
<text transform="translate(273.72 855.2) scale(1.0000 1.0300)" font-size="26" font-weight="bold" fill="#231f20">0.9</text>
<text transform="translate(336.44 855.2) scale(1.0000 1.0300)" font-size="26" font-weight="bold" fill="#231f20"> .8</text>
<path transform="translate(336.44 855.2) scale(26.0000 26.7800)" d="M0.285 0L0.415 0L0.415 -0.705L0.30 -0.705Q0.22 -0.6 0.108 -0.515L0.108 -0.42Q0.2 -0.455 0.285 -0.51Z" fill="#231f20"/>
<text transform="translate(401.19 855.2) scale(1.0000 1.0300)" font-size="26" font-weight="bold" fill="#231f20">3.5</text>
<text transform="translate(475.67 855.2) scale(1.0000 1.0300)" font-size="26" font-weight="bold" fill="#231f20">7</text>
<text transform="translate(530.78 855.2) scale(1.0000 1.0300)" font-size="26" font-weight="bold" fill="#231f20"> 4</text>
<path transform="translate(530.78 855.2) scale(26.0000 26.7800)" d="M0.285 0L0.415 0L0.415 -0.705L0.30 -0.705Q0.22 -0.6 0.108 -0.515L0.108 -0.42Q0.2 -0.455 0.285 -0.51Z" fill="#231f20"/>
<text transform="translate(595.76 855.2) scale(1.0000 1.0300)" font-size="26" font-weight="bold" fill="#231f20">28</text>
<text transform="translate(659.57 855.2) scale(1.0000 1.0300)" font-size="26" font-weight="bold" fill="#231f20">56</text>
<rect x="148.8" y="804.2" width="14.4" height="11.7" fill="#231f20"/>
<rect x="166.9" y="804.7" width="14" height="11.2" fill="#fff" stroke="#231f20" stroke-width="1.7"/>
<line x1="156" y1="802.4" x2="156" y2="806" stroke="#878787" stroke-width="1.7"/>
<line x1="151.5" y1="802.4" x2="160.5" y2="802.4" stroke="#878787" stroke-width="1.7"/>
<line x1="151.5" y1="806" x2="160.5" y2="806" stroke="#878787" stroke-width="1.7"/>
<line x1="174.3" y1="804.5" x2="174.3" y2="807" stroke="#878787" stroke-width="1.7"/>
<line x1="169.3" y1="804.5" x2="179.3" y2="804.5" stroke="#878787" stroke-width="1.7"/>
<line x1="169.3" y1="807" x2="179.3" y2="807" stroke="#878787" stroke-width="1.7"/>
<rect x="212.49" y="800" width="14.4" height="15.9" fill="#231f20"/>
<rect x="230.59" y="800.4" width="14" height="15.5" fill="#fff" stroke="#231f20" stroke-width="1.7"/>
<line x1="219.69" y1="798.1" x2="219.69" y2="803.2" stroke="#878787" stroke-width="1.7"/>
<line x1="215.19" y1="798.1" x2="224.19" y2="798.1" stroke="#878787" stroke-width="1.7"/>
<line x1="215.19" y1="803.2" x2="224.19" y2="803.2" stroke="#878787" stroke-width="1.7"/>
<line x1="237.99" y1="801.3" x2="237.99" y2="802.8" stroke="#878787" stroke-width="1.7"/>
<line x1="232.99" y1="801.3" x2="242.99" y2="801.3" stroke="#878787" stroke-width="1.7"/>
<line x1="232.99" y1="802.8" x2="242.99" y2="802.8" stroke="#878787" stroke-width="1.7"/>
<rect x="276.18" y="772.4" width="14.4" height="43.5" fill="#231f20"/>
<rect x="294.28" y="764.4" width="14" height="51.5" fill="#fff" stroke="#231f20" stroke-width="1.7"/>
<line x1="283.38" y1="770.8" x2="283.38" y2="774" stroke="#878787" stroke-width="1.7"/>
<line x1="278.88" y1="770.8" x2="287.88" y2="770.8" stroke="#878787" stroke-width="1.7"/>
<line x1="278.88" y1="774" x2="287.88" y2="774" stroke="#878787" stroke-width="1.7"/>
<line x1="301.68" y1="762.3" x2="301.68" y2="765.8" stroke="#878787" stroke-width="1.7"/>
<line x1="296.68" y1="762.3" x2="306.68" y2="762.3" stroke="#878787" stroke-width="1.7"/>
<line x1="296.68" y1="765.8" x2="306.68" y2="765.8" stroke="#878787" stroke-width="1.7"/>
<rect x="339.87" y="796" width="14.4" height="19.9" fill="#231f20"/>
<rect x="357.97" y="777.5" width="14" height="38.4" fill="#fff" stroke="#231f20" stroke-width="1.7"/>
<line x1="347.07" y1="792.2" x2="347.07" y2="799.8" stroke="#878787" stroke-width="1.7"/>
<line x1="342.57" y1="792.2" x2="351.57" y2="792.2" stroke="#878787" stroke-width="1.7"/>
<line x1="342.57" y1="799.8" x2="351.57" y2="799.8" stroke="#878787" stroke-width="1.7"/>
<line x1="365.37" y1="773" x2="365.37" y2="784.1" stroke="#878787" stroke-width="1.7"/>
<line x1="360.37" y1="773" x2="370.37" y2="773" stroke="#878787" stroke-width="1.7"/>
<line x1="360.37" y1="784.1" x2="370.37" y2="784.1" stroke="#878787" stroke-width="1.7"/>
<rect x="403.56" y="793.9" width="14.4" height="22" fill="#231f20"/>
<rect x="421.66" y="777.2" width="14" height="38.7" fill="#fff" stroke="#231f20" stroke-width="1.7"/>
<line x1="410.76" y1="787.7" x2="410.76" y2="799.3" stroke="#878787" stroke-width="1.7"/>
<line x1="406.26" y1="787.7" x2="415.26" y2="787.7" stroke="#878787" stroke-width="1.7"/>
<line x1="406.26" y1="799.3" x2="415.26" y2="799.3" stroke="#878787" stroke-width="1.7"/>
<line x1="429.06" y1="774.6" x2="429.06" y2="780" stroke="#878787" stroke-width="1.7"/>
<line x1="424.06" y1="774.6" x2="434.06" y2="774.6" stroke="#878787" stroke-width="1.7"/>
<line x1="424.06" y1="780" x2="434.06" y2="780" stroke="#878787" stroke-width="1.7"/>
<rect x="467.24" y="781" width="14.4" height="34.9" fill="#231f20"/>
<rect x="485.34" y="769" width="14" height="46.9" fill="#fff" stroke="#231f20" stroke-width="1.7"/>
<line x1="474.44" y1="777.2" x2="474.44" y2="786.5" stroke="#878787" stroke-width="1.7"/>
<line x1="469.94" y1="777.2" x2="478.94" y2="777.2" stroke="#878787" stroke-width="1.7"/>
<line x1="469.94" y1="786.5" x2="478.94" y2="786.5" stroke="#878787" stroke-width="1.7"/>
<line x1="492.74" y1="762.2" x2="492.74" y2="773.3" stroke="#878787" stroke-width="1.7"/>
<line x1="487.74" y1="762.2" x2="497.74" y2="762.2" stroke="#878787" stroke-width="1.7"/>
<line x1="487.74" y1="773.3" x2="497.74" y2="773.3" stroke="#878787" stroke-width="1.7"/>
<rect x="530.93" y="787.4" width="14.4" height="28.5" fill="#231f20"/>
<rect x="549.03" y="786.1" width="14" height="29.8" fill="#fff" stroke="#231f20" stroke-width="1.7"/>
<line x1="538.13" y1="786.8" x2="538.13" y2="788.2" stroke="#878787" stroke-width="1.7"/>
<line x1="533.63" y1="786.8" x2="542.63" y2="786.8" stroke="#878787" stroke-width="1.7"/>
<line x1="533.63" y1="788.2" x2="542.63" y2="788.2" stroke="#878787" stroke-width="1.7"/>
<line x1="556.43" y1="771.5" x2="556.43" y2="800.5" stroke="#878787" stroke-width="1.7"/>
<line x1="551.43" y1="771.5" x2="561.43" y2="771.5" stroke="#878787" stroke-width="1.7"/>
<line x1="551.43" y1="800.5" x2="561.43" y2="800.5" stroke="#878787" stroke-width="1.7"/>
<rect x="594.62" y="732.4" width="14.4" height="83.5" fill="#231f20"/>
<rect x="612.72" y="762.8" width="14" height="53.1" fill="#fff" stroke="#231f20" stroke-width="1.7"/>
<line x1="601.82" y1="726.7" x2="601.82" y2="738" stroke="#878787" stroke-width="1.7"/>
<line x1="597.32" y1="726.7" x2="606.32" y2="726.7" stroke="#878787" stroke-width="1.7"/>
<line x1="597.32" y1="738" x2="606.32" y2="738" stroke="#878787" stroke-width="1.7"/>
<line x1="620.12" y1="758.2" x2="620.12" y2="766.9" stroke="#878787" stroke-width="1.7"/>
<line x1="615.12" y1="758.2" x2="625.12" y2="758.2" stroke="#878787" stroke-width="1.7"/>
<line x1="615.12" y1="766.9" x2="625.12" y2="766.9" stroke="#878787" stroke-width="1.7"/>
<rect x="658.31" y="745" width="14.4" height="70.9" fill="#231f20"/>
<rect x="676.41" y="582.4" width="14" height="233.5" fill="#fff" stroke="#231f20" stroke-width="1.7"/>
<line x1="665.51" y1="744.2" x2="665.51" y2="746" stroke="#878787" stroke-width="1.7"/>
<line x1="661.01" y1="744.2" x2="670.01" y2="744.2" stroke="#878787" stroke-width="1.7"/>
<line x1="661.01" y1="746" x2="670.01" y2="746" stroke="#878787" stroke-width="1.7"/>
<text transform="translate(146.74 793.7) scale(0.9641 1.0000)" font-size="21" fill="#231f20">a</text>
<text transform="translate(166.56 795.6) scale(0.9839 1.0000)" font-size="21" fill="#231f20">A</text>
<text transform="translate(198.47 789.3) scale(1.0378 1.0000)" font-size="21" fill="#231f20">ab</text>
<text transform="translate(226.96 789.3) scale(0.9982 1.0000)" font-size="21" fill="#231f20">A</text>
<text transform="translate(273.22 759.4) scale(1.1118 1.0000)" font-size="21" fill="#231f20">d</text>
<text transform="translate(291.98 753.1) scale(1.0558 1.0000)" font-size="21" fill="#231f20">B</text>
<text transform="translate(323.66 784.2) scale(1.0563 1.0000)" font-size="21" fill="#231f20">ac</text>
<text transform="translate(351.56 763.4) scale(0.9938 1.0000)" font-size="21" fill="#231f20">AB</text>
<text transform="translate(390.07 778.5) scale(1.0418 1.0000)" font-size="21" fill="#231f20">ac</text>
<text transform="translate(417.96 767.7) scale(0.9938 1.0000)" font-size="21" fill="#231f20">AB</text>
<text transform="translate(453.4 768.2) scale(1.0033 1.0000)" font-size="21" fill="#231f20">cd</text>
<text transform="translate(483.09 750.3) scale(0.9931 1.0000)" font-size="21" fill="#231f20">B</text>
<text transform="translate(509.5 778.6) scale(1.0359 1.0000)" font-size="21" fill="#231f20">bc</text>
<text transform="translate(539.16 761.9) scale(1.0013 1.0000)" font-size="21" fill="#231f20">AB</text>
<text transform="translate(593.7 714.5) scale(1.1163 1.0000)" font-size="21" fill="#231f20">e</text>
<text transform="translate(608.77 748.4) scale(1.0647 1.0000)" font-size="21" fill="#231f20">B</text>
<text transform="translate(655.33 731.8) scale(1.0859 1.0000)" font-size="21" fill="#231f20">e</text>
<text transform="translate(673.03 572.7) scale(1.0076 1.0000)" font-size="21" fill="#231f20">C</text>
<path d="M340.4 729.8Q340.4 726.6 342.4 726.6L364.3 726.6Q366.3 726.6 366.3 729.8M353.2 726.6L353.2 723.4" stroke="#3c3c3c" stroke-width="1.4" fill="none"/>
<path d="M353 717.1L353 710.5M350.14 715.45L355.86 712.15M350.14 712.15L355.86 715.45" stroke="#231f20" stroke-width="1.5" stroke-linecap="round" fill="none"/>
<path d="M601.5 689Q601.5 685.8 603.5 685.8L623.1 685.8Q625.1 685.8 625.1 689M613 685.8L613 682.6" stroke="#3c3c3c" stroke-width="1.4" fill="none"/>
<path d="M612.8 679.1L612.8 672.4M609.9 677.42L615.7 674.08M609.9 674.08L615.7 677.42" stroke="#231f20" stroke-width="1.5" stroke-linecap="round" fill="none"/>
<path d="M654.4 547Q654.4 543.8 656.4 543.8L678.2 543.8Q680.2 543.8 680.2 547M667 543.8L667 540.6" stroke="#3c3c3c" stroke-width="1.4" fill="none"/>
<path d="M666.6 535.8L666.6 528.4M663.4 533.95L669.8 530.25M663.4 530.25L669.8 533.95" stroke="#231f20" stroke-width="1.5" stroke-linecap="round" fill="none"/>
<text transform="translate(595.4 491.7) scale(1.0000 1.0300)" font-size="21" font-weight="bold" fill="#231f20">P</text>
<text transform="translate(609.68 496.3) scale(1.0703 1.0000)" font-size="15" fill="#231f20">7d</text>
<rect x="627.6" y="480.8" width="10" height="2.2" fill="#231f20"/>
<rect x="627.6" y="485.3" width="10" height="2.2" fill="#231f20"/>
<text transform="translate(644.75 491.7) scale(1.0244 1.0300)" font-size="21" font-weight="bold" fill="#231f20">0.000</text>
<text transform="translate(587.9 517) scale(1.0000 1.0300)" font-size="21" font-weight="bold" fill="#231f20">P</text>
<text transform="translate(601.33 521.5) scale(1.0461 1.0000)" font-size="15" fill="#231f20"> 0d</text>
<path transform="translate(601.33 521.5) scale(15.6914 15.0000)" d="M0.283 0L0.373 0L0.373 -0.716L0.31 -0.716Q0.24 -0.62 0.10 -0.545L0.10 -0.465Q0.2 -0.51 0.283 -0.575Z" fill="#231f20"/>
<rect x="627.6" y="506.1" width="10" height="2.2" fill="#231f20"/>
<rect x="627.6" y="510.6" width="10" height="2.2" fill="#231f20"/>
<text transform="translate(644.75 517) scale(1.0244 1.0300)" font-size="21" font-weight="bold" fill="#231f20">0.000</text>
<text transform="translate(18.9 756.5) rotate(-90) scale(0.9953 1.0500)" font-size="25.5" font-weight="bold" fill="#231f20">Boron in biomass</text>
<g transform="translate(47.8 724.9) rotate(-90) scale(1 1.05)">
<text x="0" y="0" font-size="25.5" font-weight="bold" fill="#231f20">(µg.mg DW</text>
<text x="133.66" y="-9" font-size="16.5" font-weight="bold" fill="#231f20">- </text>
<path transform="translate(139.16 -9) scale(16.5000 16.5000)" d="M0.285 0L0.415 0L0.415 -0.705L0.30 -0.705Q0.22 -0.6 0.108 -0.515L0.108 -0.42Q0.2 -0.455 0.285 -0.51Z" fill="#231f20"/>
<text x="148.33" y="0" font-size="25.5" font-weight="bold" fill="#231f20">)</text>
</g>
<g transform="translate(307.9 889.4) scale(1 1.05)">
<text x="0" y="0" font-size="25.5" font-weight="bold" fill="#231f20">Boron (mg.L</text>
<text x="151.56" y="-9" font-size="16.5" font-weight="bold" fill="#231f20">- </text>
<path transform="translate(157.05 -9) scale(16.5000 16.5000)" d="M0.285 0L0.415 0L0.415 -0.705L0.30 -0.705Q0.22 -0.6 0.108 -0.515L0.108 -0.42Q0.2 -0.455 0.285 -0.51Z" fill="#231f20"/>
<text x="166.23" y="0" font-size="25.5" font-weight="bold" fill="#231f20">)</text>
</g>
<text x="0" y="468.6" font-size="30" font-weight="bold" fill="#000">C</text>
<line x1="829.2" y1="469.8" x2="1413.6" y2="469.8" stroke="#231f20" stroke-width="1.7"/>
<line x1="1412.6" y1="471.5" x2="1412.6" y2="829.5" stroke="#231f20" stroke-width="1.7"/>
<line x1="824.5" y1="466.4" x2="824.5" y2="826.7" stroke="#231f20" stroke-width="1.7"/>
<line x1="818" y1="820.2" x2="1417.5" y2="820.2" stroke="#231f20" stroke-width="1.7"/>
<line x1="818" y1="820.2" x2="824.5" y2="820.2" stroke="#231f20" stroke-width="1.7"/>
<text transform="translate(797.21 829.3) scale(1.0000 1.0300)" font-size="26" font-weight="bold" fill="#231f20">0</text>
<line x1="818" y1="769.8" x2="824.5" y2="769.8" stroke="#231f20" stroke-width="1.7"/>
<text transform="translate(797.18 778.66) scale(1.0000 1.0300)" font-size="26" font-weight="bold" fill="#231f20">2</text>
<line x1="818" y1="719.4" x2="824.5" y2="719.4" stroke="#231f20" stroke-width="1.7"/>
<text transform="translate(796.28 728.02) scale(1.0000 1.0300)" font-size="26" font-weight="bold" fill="#231f20">4</text>
<line x1="818" y1="669" x2="824.5" y2="669" stroke="#231f20" stroke-width="1.7"/>
<text transform="translate(797.08 677.38) scale(1.0000 1.0300)" font-size="26" font-weight="bold" fill="#231f20">6</text>
<line x1="818" y1="618.6" x2="824.5" y2="618.6" stroke="#231f20" stroke-width="1.7"/>
<text transform="translate(796.94 626.74) scale(1.0000 1.0300)" font-size="26" font-weight="bold" fill="#231f20">8</text>
<line x1="818" y1="568.2" x2="824.5" y2="568.2" stroke="#231f20" stroke-width="1.7"/>
<text transform="translate(782.75 576.1) scale(1.0000 1.0300)" font-size="26" font-weight="bold" fill="#231f20"> 0</text>
<path transform="translate(782.75 576.1) scale(26.0000 26.7800)" d="M0.285 0L0.415 0L0.415 -0.705L0.30 -0.705Q0.22 -0.6 0.108 -0.515L0.108 -0.42Q0.2 -0.455 0.285 -0.51Z" fill="#231f20"/>
<line x1="818" y1="517.8" x2="824.5" y2="517.8" stroke="#231f20" stroke-width="1.7"/>
<text transform="translate(782.72 525.46) scale(1.0000 1.0300)" font-size="26" font-weight="bold" fill="#231f20"> 2</text>
<path transform="translate(782.72 525.46) scale(26.0000 26.7800)" d="M0.285 0L0.415 0L0.415 -0.705L0.30 -0.705Q0.22 -0.6 0.108 -0.515L0.108 -0.42Q0.2 -0.455 0.285 -0.51Z" fill="#231f20"/>
<line x1="818" y1="467.4" x2="824.5" y2="467.4" stroke="#231f20" stroke-width="1.7"/>
<text transform="translate(781.82 474.82) scale(1.0000 1.0300)" font-size="26" font-weight="bold" fill="#231f20"> 4</text>
<path transform="translate(781.82 474.82) scale(26.0000 26.7800)" d="M0.285 0L0.415 0L0.415 -0.705L0.30 -0.705Q0.22 -0.6 0.108 -0.515L0.108 -0.42Q0.2 -0.455 0.285 -0.51Z" fill="#231f20"/>
<line x1="890.27" y1="820.2" x2="890.27" y2="826.7" stroke="#231f20" stroke-width="1.7"/>
<line x1="956.04" y1="820.2" x2="956.04" y2="826.7" stroke="#231f20" stroke-width="1.7"/>
<line x1="1021.81" y1="820.2" x2="1021.81" y2="826.7" stroke="#231f20" stroke-width="1.7"/>
<line x1="1087.58" y1="820.2" x2="1087.58" y2="826.7" stroke="#231f20" stroke-width="1.7"/>
<line x1="1153.35" y1="820.2" x2="1153.35" y2="826.7" stroke="#231f20" stroke-width="1.7"/>
<line x1="1219.12" y1="820.2" x2="1219.12" y2="826.7" stroke="#231f20" stroke-width="1.7"/>
<line x1="1284.89" y1="820.2" x2="1284.89" y2="826.7" stroke="#231f20" stroke-width="1.7"/>
<line x1="1350.66" y1="820.2" x2="1350.66" y2="826.7" stroke="#231f20" stroke-width="1.7"/>
<line x1="1416.43" y1="820.2" x2="1416.43" y2="826.7" stroke="#231f20" stroke-width="1.7"/>
<text transform="translate(840.13 857.6) scale(1.0000 1.0300)" font-size="26" font-weight="bold" fill="#231f20">0.0</text>
<text transform="translate(905.44 857.6) scale(1.0000 1.0300)" font-size="26" font-weight="bold" fill="#231f20">0.4</text>
<text transform="translate(971.62 857.6) scale(1.0000 1.0300)" font-size="26" font-weight="bold" fill="#231f20">0.9</text>
<text transform="translate(1036.42 857.6) scale(1.0000 1.0300)" font-size="26" font-weight="bold" fill="#231f20"> .8</text>
<path transform="translate(1036.42 857.6) scale(26.0000 26.7800)" d="M0.285 0L0.415 0L0.415 -0.705L0.30 -0.705Q0.22 -0.6 0.108 -0.515L0.108 -0.42Q0.2 -0.455 0.285 -0.51Z" fill="#231f20"/>
<text transform="translate(1103.26 857.6) scale(1.0000 1.0300)" font-size="26" font-weight="bold" fill="#231f20">3.5</text>
<text transform="translate(1168.94 857.6) scale(1.0000 1.0300)" font-size="26" font-weight="bold" fill="#231f20">7.0</text>
<text transform="translate(1226.63 857.6) scale(1.0000 1.0300)" font-size="26" font-weight="bold" fill="#231f20"> 4.0</text>
<path transform="translate(1226.63 857.6) scale(26.0000 26.7800)" d="M0.285 0L0.415 0L0.415 -0.705L0.30 -0.705Q0.22 -0.6 0.108 -0.515L0.108 -0.42Q0.2 -0.455 0.285 -0.51Z" fill="#231f20"/>
<text transform="translate(1293.36 857.6) scale(1.0000 1.0300)" font-size="26" font-weight="bold" fill="#231f20">28.0</text>
<text transform="translate(1359.18 857.6) scale(1.0000 1.0300)" font-size="26" font-weight="bold" fill="#231f20">56.0</text>
<line x1="847.85" y1="641.7" x2="847.85" y2="664.5" stroke="#8c8c8c" stroke-width="1.6"/>
<line x1="845.35" y1="641.7" x2="850.35" y2="641.7" stroke="#8c8c8c" stroke-width="2"/>
<line x1="847.85" y1="705.8" x2="847.85" y2="707.8" stroke="#8c8c8c" stroke-width="1.6"/>
<line x1="845.35" y1="707.8" x2="850.35" y2="707.8" stroke="#8c8c8c" stroke-width="2"/>
<rect x="839.5" y="665.5" width="16.7" height="39.3" fill="#231f20" stroke="#8c8c8c" stroke-width="2"/>
<line x1="839.5" y1="694.5" x2="856.2" y2="694.5" stroke="#8c8c8c" stroke-width="1.8"/>
<path d="M841 679.5L854.7 692.5M854.7 679.5L841 692.5" stroke="#8c8c8c" stroke-width="1.8" fill="none"/>
<line x1="865.9" y1="661.1" x2="865.9" y2="662.7" stroke="#231f20" stroke-width="1.6"/>
<line x1="863.4" y1="662.7" x2="868.4" y2="662.7" stroke="#231f20" stroke-width="2"/>
<rect x="859.2" y="621" width="13.4" height="39.1" fill="#fff" stroke="#231f20" stroke-width="2"/>
<line x1="859.2" y1="632.9" x2="872.6" y2="632.9" stroke="#231f20" stroke-width="1.8"/>
<path d="M860.7 633.1L871.1 646.1M871.1 633.1L860.7 646.1" stroke="#231f20" stroke-width="1.8" fill="none"/>
<line x1="914.65" y1="626.8" x2="914.65" y2="634.9" stroke="#8c8c8c" stroke-width="1.6"/>
<line x1="912.15" y1="626.8" x2="917.15" y2="626.8" stroke="#8c8c8c" stroke-width="2"/>
<line x1="914.65" y1="669.4" x2="914.65" y2="676" stroke="#8c8c8c" stroke-width="1.6"/>
<line x1="912.15" y1="676" x2="917.15" y2="676" stroke="#8c8c8c" stroke-width="2"/>
<rect x="907.4" y="635.9" width="14.5" height="32.5" fill="#231f20" stroke="#8c8c8c" stroke-width="2"/>
<line x1="907.4" y1="646.3" x2="921.9" y2="646.3" stroke="#8c8c8c" stroke-width="1.8"/>
<path d="M908.9 643.5L920.4 656.5M920.4 643.5L908.9 656.5" stroke="#8c8c8c" stroke-width="1.8" fill="none"/>
<line x1="930.75" y1="631.3" x2="930.75" y2="633.3" stroke="#231f20" stroke-width="1.6"/>
<line x1="928.25" y1="633.3" x2="933.25" y2="633.3" stroke="#231f20" stroke-width="2"/>
<rect x="922.7" y="620.4" width="16.1" height="9.9" fill="#fff" stroke="#231f20" stroke-width="2"/>
<path d="M924.2 619L937.3 632M937.3 619L924.2 632" stroke="#231f20" stroke-width="1.8" fill="none"/>
<line x1="980.6" y1="635.3" x2="980.6" y2="640.6" stroke="#8c8c8c" stroke-width="1.6"/>
<line x1="978.1" y1="635.3" x2="983.1" y2="635.3" stroke="#8c8c8c" stroke-width="2"/>
<line x1="980.6" y1="657.5" x2="980.6" y2="659" stroke="#8c8c8c" stroke-width="1.6"/>
<line x1="978.1" y1="659" x2="983.1" y2="659" stroke="#8c8c8c" stroke-width="2"/>
<rect x="973.5" y="641.6" width="14.2" height="14.9" fill="#231f20" stroke="#8c8c8c" stroke-width="2"/>
<line x1="973.5" y1="648" x2="987.7" y2="648" stroke="#8c8c8c" stroke-width="1.8"/>
<path d="M975 642.5L986.2 655.5M986.2 642.5L975 655.5" stroke="#8c8c8c" stroke-width="1.8" fill="none"/>
<path d="M989.4 626.4L1005.9 639.6M1005.9 626.4L989.4 639.6" stroke="#231f20" stroke-width="2" fill="none"/>
<rect x="990.2" y="633.2" width="14.9" height="1.7" fill="#231f20" stroke="#231f20" stroke-width="1.6"/>
<line x1="1045.35" y1="641.6" x2="1045.35" y2="645.6" stroke="#8c8c8c" stroke-width="1.6"/>
<line x1="1042.85" y1="641.6" x2="1047.85" y2="641.6" stroke="#8c8c8c" stroke-width="2"/>
<line x1="1045.35" y1="696.7" x2="1045.35" y2="719.9" stroke="#8c8c8c" stroke-width="1.6"/>
<line x1="1042.85" y1="719.9" x2="1047.85" y2="719.9" stroke="#8c8c8c" stroke-width="2"/>
<rect x="1037.5" y="646.6" width="15.7" height="49.1" fill="#231f20" stroke="#8c8c8c" stroke-width="2"/>
<line x1="1037.5" y1="663.6" x2="1053.2" y2="663.6" stroke="#8c8c8c" stroke-width="1.8"/>
<path d="M1039 662.5L1051.7 675.5M1051.7 662.5L1039 675.5" stroke="#8c8c8c" stroke-width="1.8" fill="none"/>
<line x1="1063.6" y1="617.4" x2="1063.6" y2="618.5" stroke="#231f20" stroke-width="1.6"/>
<line x1="1061.1" y1="617.4" x2="1066.1" y2="617.4" stroke="#231f20" stroke-width="2"/>
<rect x="1056.4" y="619.5" width="14.4" height="10.5" fill="#fff" stroke="#231f20" stroke-width="2"/>
<path d="M1057.9 618.5L1069.3 631.5M1069.3 618.5L1057.9 631.5" stroke="#231f20" stroke-width="1.8" fill="none"/>
<line x1="1112.35" y1="632.9" x2="1112.35" y2="639.4" stroke="#8c8c8c" stroke-width="1.6"/>
<line x1="1109.85" y1="632.9" x2="1114.85" y2="632.9" stroke="#8c8c8c" stroke-width="2"/>
<rect x="1105.4" y="640.4" width="13.9" height="9.4" fill="#231f20" stroke="#8c8c8c" stroke-width="2"/>
<path d="M1106.9 638.5L1117.8 651.5M1117.8 638.5L1106.9 651.5" stroke="#8c8c8c" stroke-width="1.8" fill="none"/>
<path d="M1119.2 628.6L1137.3 641.8M1137.3 628.6L1119.2 641.8" stroke="#231f20" stroke-width="2" fill="none"/>
<rect x="1120" y="633.7" width="16.5" height="3.2" fill="#fff" stroke="#231f20" stroke-width="1.6"/>
<line x1="1177.85" y1="652.2" x2="1177.85" y2="664.7" stroke="#8c8c8c" stroke-width="1.6"/>
<line x1="1175.35" y1="652.2" x2="1180.35" y2="652.2" stroke="#8c8c8c" stroke-width="2"/>
<rect x="1170.9" y="665.7" width="13.9" height="57.6" fill="#231f20" stroke="#8c8c8c" stroke-width="2"/>
<line x1="1170.9" y1="697" x2="1184.8" y2="697" stroke="#8c8c8c" stroke-width="1.8"/>
<path d="M1172.4 688L1183.3 701M1183.3 688L1172.4 701" stroke="#8c8c8c" stroke-width="1.8" fill="none"/>
<line x1="1194.95" y1="631.7" x2="1194.95" y2="634.5" stroke="#231f20" stroke-width="1.6"/>
<line x1="1192.45" y1="631.7" x2="1197.45" y2="631.7" stroke="#231f20" stroke-width="2"/>
<line x1="1194.95" y1="646.4" x2="1194.95" y2="650" stroke="#231f20" stroke-width="1.6"/>
<line x1="1192.45" y1="650" x2="1197.45" y2="650" stroke="#231f20" stroke-width="2"/>
<rect x="1187.9" y="635.5" width="14.1" height="9.9" fill="#fff" stroke="#231f20" stroke-width="2"/>
<path d="M1189.4 634L1200.5 647M1200.5 634L1189.4 647" stroke="#231f20" stroke-width="1.8" fill="none"/>
<line x1="1242.35" y1="673.3" x2="1242.35" y2="696.1" stroke="#8c8c8c" stroke-width="1.6"/>
<line x1="1239.85" y1="673.3" x2="1244.85" y2="673.3" stroke="#8c8c8c" stroke-width="2"/>
<rect x="1234.4" y="697.1" width="15.9" height="24.3" fill="#231f20" stroke="#8c8c8c" stroke-width="2"/>
<path d="M1235.9 705.2L1248.8 718.2M1248.8 705.2L1235.9 718.2" stroke="#8c8c8c" stroke-width="1.8" fill="none"/>
<line x1="1260.55" y1="601" x2="1260.55" y2="620" stroke="#231f20" stroke-width="1.6"/>
<line x1="1258.05" y1="601" x2="1263.05" y2="601" stroke="#231f20" stroke-width="2"/>
<line x1="1260.55" y1="642" x2="1260.55" y2="643.6" stroke="#231f20" stroke-width="1.6"/>
<line x1="1258.05" y1="643.6" x2="1263.05" y2="643.6" stroke="#231f20" stroke-width="2"/>
<rect x="1253.5" y="621" width="14.1" height="20" fill="#fff" stroke="#231f20" stroke-width="2"/>
<line x1="1253.5" y1="640" x2="1267.6" y2="640" stroke="#231f20" stroke-width="1.8"/>
<path d="M1255 624.5L1266.1 637.5M1266.1 624.5L1255 637.5" stroke="#231f20" stroke-width="1.8" fill="none"/>
<path d="M1301 717.9L1317.5 731.1M1317.5 717.9L1301 731.1" stroke="#8c8c8c" stroke-width="2" fill="none"/>
<rect x="1301.8" y="723.8" width="14.9" height="1.4" fill="#8c8c8c" stroke="#8c8c8c" stroke-width="1.6"/>
<line x1="1325.7" y1="658.3" x2="1325.7" y2="670.7" stroke="#231f20" stroke-width="1.6"/>
<line x1="1323.2" y1="658.3" x2="1328.2" y2="658.3" stroke="#231f20" stroke-width="2"/>
<line x1="1325.7" y1="698.7" x2="1325.7" y2="700.9" stroke="#231f20" stroke-width="1.6"/>
<line x1="1323.2" y1="700.9" x2="1328.2" y2="700.9" stroke="#231f20" stroke-width="2"/>
<rect x="1317.9" y="671.7" width="15.6" height="26" fill="#fff" stroke="#231f20" stroke-width="2"/>
<line x1="1317.9" y1="685.9" x2="1333.5" y2="685.9" stroke="#231f20" stroke-width="1.8"/>
<path d="M1319.4 679.5L1332 692.5M1332 679.5L1319.4 692.5" stroke="#231f20" stroke-width="1.8" fill="none"/>
<line x1="1375.65" y1="707.5" x2="1375.65" y2="711.9" stroke="#8c8c8c" stroke-width="1.6"/>
<line x1="1373.15" y1="707.5" x2="1378.15" y2="707.5" stroke="#8c8c8c" stroke-width="2"/>
<rect x="1368.6" y="712.9" width="14.1" height="9.7" fill="#231f20" stroke="#8c8c8c" stroke-width="2"/>
<path d="M1370.1 711L1381.2 724M1381.2 711L1370.1 724" stroke="#8c8c8c" stroke-width="1.8" fill="none"/>
<path d="M1384.3 703.1L1400.2 716.3M1400.2 703.1L1384.3 716.3" stroke="#231f20" stroke-width="2" fill="none"/>
<rect x="1385.1" y="707.8" width="14.3" height="3.9" fill="#231f20" stroke="#231f20" stroke-width="1.6"/>
<text transform="translate(837.04 632.1) scale(0.9598 1.0000)" font-size="21" fill="#231f20">ac</text>
<text transform="translate(864.79 612.3) scale(0.8497 1.0000)" font-size="21" fill="#231f20">C</text>
<text transform="translate(911.52 617.2) scale(0.9830 1.0000)" font-size="21" fill="#231f20">c</text>
<text transform="translate(927.27 612.3) scale(0.8722 1.0000)" font-size="21" fill="#231f20">C</text>
<text transform="translate(976.85 625.1) scale(0.9498 1.0000)" font-size="21" fill="#231f20">c</text>
<text transform="translate(991.71 617.2) scale(0.8346 1.0000)" font-size="21" fill="#231f20">C</text>
<text transform="translate(1030.31 632.2) scale(1.0260 1.0000)" font-size="21" fill="#231f20">bc</text>
<text transform="translate(1056.55 610) scale(0.8873 1.0000)" font-size="21" fill="#231f20">C</text>
<text transform="translate(1107.55 625.1) scale(0.9498 1.0000)" font-size="21" fill="#231f20">c</text>
<text transform="translate(1122.1 620.8) scale(0.8421 1.0000)" font-size="21" fill="#231f20">C</text>
<text transform="translate(1160.08 644.7) scale(1.1443 1.0000)" font-size="21" fill="#231f20">ab</text>
<text transform="translate(1189.31 625.5) scale(0.8346 1.0000)" font-size="21" fill="#231f20">C</text>
<text transform="translate(1238.03 664.8) scale(0.8621 1.0000)" font-size="21" fill="#231f20">a</text>
<text transform="translate(1254.12 595.5) scale(0.9173 1.0000)" font-size="21" fill="#231f20">C</text>
<text transform="translate(1305.06 706.2) scale(0.8251 1.0000)" font-size="21" fill="#231f20">a</text>
<text transform="translate(1321.46 650) scale(0.8947 1.0000)" font-size="21" fill="#231f20">B</text>
<text transform="translate(1369.77 696.9) scale(0.8158 1.0000)" font-size="21" fill="#231f20">a</text>
<text transform="translate(1386.57 693) scale(0.8187 1.0000)" font-size="21" fill="#231f20">A</text>
<path d="M841.3 585.3Q841.3 582.1 843.3 582.1L867.1 582.1Q869.1 582.1 869.1 585.3M855.2 582.1L855.2 578.9" stroke="#3c3c3c" stroke-width="1.4" fill="none"/>
<path d="M853.2 570.7L853.2 564.1M850.34 569.05L856.06 565.75M850.34 565.75L856.06 569.05" stroke="#231f20" stroke-width="1.5" stroke-linecap="round" fill="none"/>
<path d="M908.8 584.3Q908.8 581.1 910.8 581.1L932.8 581.1Q934.8 581.1 934.8 584.3M921.9 581.1L921.9 577.9" stroke="#3c3c3c" stroke-width="1.4" fill="none"/>
<path d="M920.3 570.7L920.3 564.1M917.44 569.05L923.16 565.75M917.44 565.75L923.16 569.05" stroke="#231f20" stroke-width="1.5" stroke-linecap="round" fill="none"/>
<path d="M972.6 589.3Q972.6 586.1 974.6 586.1L998.9 586.1Q1000.9 586.1 1000.9 589.3M986.5 586.1L986.5 582.9" stroke="#3c3c3c" stroke-width="1.4" fill="none"/>
<path d="M985.65 575.4L985.65 568.6M982.71 573.7L988.59 570.3M982.71 570.3L988.59 573.7" stroke="#231f20" stroke-width="1.5" stroke-linecap="round" fill="none"/>
<path d="M1038.4 583Q1038.4 579.8 1040.4 579.8L1062.7 579.8Q1064.7 579.8 1064.7 583M1051.5 579.8L1051.5 576.6" stroke="#3c3c3c" stroke-width="1.4" fill="none"/>
<path d="M1049.6 570.8L1049.6 564.3M1046.79 569.17L1052.41 565.92M1046.79 565.92L1052.41 569.17" stroke="#231f20" stroke-width="1.5" stroke-linecap="round" fill="none"/>
<path d="M1106.5 591.6Q1106.5 588.4 1108.5 588.4L1132.5 588.4Q1134.5 588.4 1134.5 591.6M1120.6 588.4L1120.6 585.2" stroke="#3c3c3c" stroke-width="1.4" fill="none"/>
<path d="M1119.15 579.7L1119.15 572.9M1116.21 578L1122.09 574.6M1116.21 574.6L1122.09 578" stroke="#231f20" stroke-width="1.5" stroke-linecap="round" fill="none"/>
<path d="M1170.6 600.2Q1170.6 597 1172.6 597L1194 597Q1196 597 1196 600.2M1183.2 597L1183.2 593.8" stroke="#3c3c3c" stroke-width="1.4" fill="none"/>
<path d="M1181.75 588L1181.75 581.7M1179.02 586.43L1184.48 583.27M1179.02 583.27L1184.48 586.43" stroke="#231f20" stroke-width="1.5" stroke-linecap="round" fill="none"/>
<path d="M1229.8 566.3Q1229.8 563.1 1231.8 563.1L1253.4 563.1Q1255.4 563.1 1255.4 566.3M1242.6 563.1L1242.6 559.9" stroke="#3c3c3c" stroke-width="1.4" fill="none"/>
<path d="M1240.9 553.6L1240.9 547.2M1238.13 552L1243.67 548.8M1238.13 548.8L1243.67 552" stroke="#231f20" stroke-width="1.5" stroke-linecap="round" fill="none"/>
<path d="M1299.5 623.6Q1299.5 620.4 1301.5 620.4L1323.3 620.4Q1325.3 620.4 1325.3 623.6M1312.5 620.4L1312.5 617.2" stroke="#3c3c3c" stroke-width="1.4" fill="none"/>
<path d="M1311.8 611.3L1311.8 604.6M1308.9 609.62L1314.7 606.28M1308.9 606.28L1314.7 609.62" stroke="#231f20" stroke-width="1.5" stroke-linecap="round" fill="none"/>
<path d="M1367.6 654.9Q1367.6 651.7 1369.6 651.7L1391.2 651.7Q1393.2 651.7 1393.2 654.9M1380.4 651.7L1380.4 648.5" stroke="#3c3c3c" stroke-width="1.4" fill="none"/>
<path d="M1379.6 642.9L1379.6 636.5M1376.83 641.3L1382.37 638.1M1376.83 638.1L1382.37 641.3" stroke="#231f20" stroke-width="1.5" stroke-linecap="round" fill="none"/>
<text transform="translate(1278.8 492) scale(1.0000 1.0300)" font-size="21" font-weight="bold" fill="#231f20">P</text>
<text transform="translate(1293.81 496.1) scale(0.9136 1.0000)" font-size="15" font-weight="bold" fill="#231f20">7d</text>
<rect x="1316.6" y="481.1" width="10" height="2.2" fill="#231f20"/>
<rect x="1316.6" y="485.6" width="10" height="2.2" fill="#231f20"/>
<text transform="translate(1334.28 492) scale(0.9890 1.0300)" font-size="21" font-weight="bold" fill="#231f20">0.000</text>
<text transform="translate(1272.9 517.5) scale(1.0000 1.0300)" font-size="21" font-weight="bold" fill="#231f20">P</text>
<text transform="translate(1286.61 521.6) scale(0.9811 1.0000)" font-size="15" font-weight="bold" fill="#231f20"> 0d</text>
<path transform="translate(1286.61 521.6) scale(14.7170 15.0000)" d="M0.285 0L0.415 0L0.415 -0.705L0.30 -0.705Q0.22 -0.6 0.108 -0.515L0.108 -0.42Q0.2 -0.455 0.285 -0.51Z" fill="#231f20"/>
<rect x="1318.7" y="506.6" width="9.9" height="2.2" fill="#231f20"/>
<rect x="1318.7" y="511.1" width="9.9" height="2.2" fill="#231f20"/>
<text transform="translate(1335.66 517.5) scale(1.0087 1.0300)" font-size="21" font-weight="bold" fill="#231f20">0.000</text>
<text transform="translate(762.9 662.29) rotate(-90) scale(0.9874 1.0500)" font-size="26" font-weight="bold" fill="#231f20">pH</text>
<g transform="translate(1033.8 901.6) scale(1 1.05)">
<text x="0" y="0" font-size="25.5" font-weight="bold" fill="#231f20">Boron (mg.L</text>
<text x="151.56" y="-9" font-size="16.5" font-weight="bold" fill="#231f20">- </text>
<path transform="translate(157.05 -9) scale(16.5000 16.5000)" d="M0.285 0L0.415 0L0.415 -0.705L0.30 -0.705Q0.22 -0.6 0.108 -0.515L0.108 -0.42Q0.2 -0.455 0.285 -0.51Z" fill="#231f20"/>
<text x="166.23" y="0" font-size="25.5" font-weight="bold" fill="#231f20">)</text>
</g>
<text x="729" y="468.6" font-size="30" font-weight="bold" fill="#000">D</text>
</svg>
</body></html>
